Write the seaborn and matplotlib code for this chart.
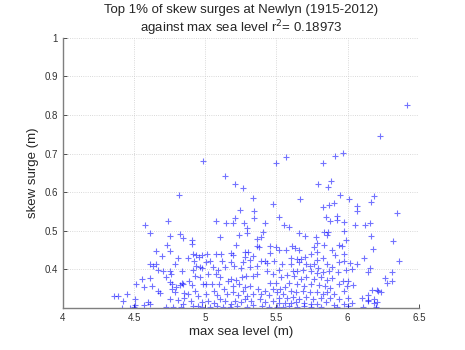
import matplotlib
matplotlib.use("Agg")
import matplotlib.pyplot as plt
import seaborn as sns
import pandas as pd

# max sea level (m), skew surge (m)
pts = [
    # upper sparse region
    (4.983, 0.681), (5.142, 0.643), (5.207, 0.621), (5.263, 0.610), (4.816, 0.594),
    (5.333, 0.584), (5.478, 0.570), (5.497, 0.675), (5.245, 0.555), (5.340, 0.552),
    (5.207, 0.534), (5.345, 0.534), (5.072, 0.526), (5.147, 0.519), (5.193, 0.520),
    (5.275, 0.520), (5.291, 0.508), (5.417, 0.521), (4.741, 0.526), (4.578, 0.515),
    (5.520, 0.536), (6.417, 0.825), (6.226, 0.745), (5.965, 0.701), (5.913, 0.695),
    (5.568, 0.691), (5.825, 0.675), (5.885, 0.630), (5.788, 0.620), (5.865, 0.613),
    (5.944, 0.593), (6.007, 0.582), (6.184, 0.591), (6.161, 0.574), (5.667, 0.583),
    (5.829, 0.561), (5.867, 0.568), (5.906, 0.571), (6.067, 0.564), (6.067, 0.551),
    (6.343, 0.545), (5.850, 0.536), (5.927, 0.538), (5.876, 0.526), (5.927, 0.529),
    (5.976, 0.522), (5.550, 0.514), (5.587, 0.510), (6.051, 0.514), (6.123, 0.515),
    (6.156, 0.519),
    # far left
    (4.359, 0.330), (4.387, 0.330), (4.452, 0.335), (4.424, 0.319), (4.415, 0.301),
    (4.475, 0.301), (4.508, 0.307),
    # 4.5 - 5.0
    (4.615, 0.494), (4.750, 0.487), (4.825, 0.491), (4.844, 0.482), (4.909, 0.475),
    (4.909, 0.467), (4.732, 0.463), (4.657, 0.448), (4.750, 0.448), (4.694, 0.434),
    (4.806, 0.429), (4.914, 0.439), (4.932, 0.437), (4.979, 0.437), (4.881, 0.430),
    (4.918, 0.422), (4.955, 0.432), (4.615, 0.415), (4.657, 0.415), (4.634, 0.410),
    (4.788, 0.415), (4.937, 0.410), (4.965, 0.406), (4.671, 0.399), (4.704, 0.396),
    (4.750, 0.397), (4.760, 0.389), (4.839, 0.396), (4.914, 0.399), (4.979, 0.403),
    (4.555, 0.375), (4.615, 0.377), (4.727, 0.380), (4.755, 0.368), (4.764, 0.361),
    (4.834, 0.366), (4.844, 0.361), (4.886, 0.371), (4.927, 0.384), (4.965, 0.380),
    (4.517, 0.361), (4.573, 0.354), (4.624, 0.358), (4.671, 0.345), (4.680, 0.340),
    (4.769, 0.349), (4.797, 0.354), (4.788, 0.342), (4.820, 0.359), (4.904, 0.359),
    (4.927, 0.345), (4.983, 0.363), (4.508, 0.323), (4.601, 0.316), (4.568, 0.307),
    (4.615, 0.311), (4.750, 0.323), (4.811, 0.320), (4.853, 0.327), (4.881, 0.335),
    (4.899, 0.318), (4.946, 0.332), (4.974, 0.316), (4.722, 0.303), (4.774, 0.303),
    (4.503, 0.303), (4.844, 0.311), (4.914, 0.306), (4.951, 0.306), (4.979, 0.303),
    (4.830, 0.303), (4.853, 0.339),
    # 5.0 - 5.5
    (5.105, 0.485), (5.240, 0.489), (5.291, 0.494), (5.408, 0.496), (5.389, 0.485),
    (5.366, 0.479), (5.216, 0.463), (5.361, 0.461), (5.380, 0.458), (5.454, 0.461),
    (5.496, 0.459), (5.011, 0.440), (5.072, 0.440), (5.109, 0.439), (5.184, 0.442),
    (5.198, 0.437), (5.282, 0.444), (5.300, 0.446), (5.277, 0.432), (5.338, 0.435),
    (5.454, 0.442), (5.422, 0.421), (5.431, 0.416), (5.482, 0.423), (5.002, 0.420),
    (5.035, 0.421), (5.119, 0.423), (5.179, 0.418), (5.268, 0.420), (5.314, 0.425),
    (5.389, 0.421), (5.053, 0.406), (5.091, 0.399), (5.142, 0.406), (5.202, 0.408),
    (5.254, 0.404), (5.314, 0.406), (5.366, 0.409), (5.361, 0.388), (5.436, 0.397),
    (5.473, 0.388), (5.515, 0.399), (5.016, 0.388), (5.072, 0.388), (5.105, 0.380),
    (5.160, 0.371), (5.179, 0.375), (5.216, 0.373), (5.258, 0.380), (5.286, 0.382),
    (5.338, 0.382), (5.454, 0.364), (5.496, 0.366), (5.002, 0.361), (5.049, 0.362),
    (5.100, 0.362), (5.133, 0.350), (5.198, 0.357), (5.240, 0.361), (5.277, 0.354),
    (5.314, 0.357), (5.370, 0.349), (5.422, 0.345), (5.478, 0.350), (5.007, 0.337),
    (5.058, 0.343), (5.081, 0.333), (5.151, 0.337), (5.193, 0.342), (5.230, 0.333),
    (5.263, 0.343), (5.296, 0.331), (5.338, 0.337), (5.389, 0.335), (5.445, 0.333),
    (5.501, 0.342), (5.021, 0.319), (5.058, 0.314), (5.105, 0.323), (5.142, 0.317),
    (5.179, 0.311), (5.212, 0.319), (5.249, 0.316), (5.282, 0.323), (5.324, 0.319),
    (5.384, 0.323), (5.422, 0.316), (5.478, 0.319), (5.515, 0.326), (5.035, 0.303),
    (5.081, 0.304), (5.128, 0.303), (5.174, 0.303), (5.221, 0.305), (5.291, 0.303),
    (5.398, 0.304), (5.445, 0.303), (5.501, 0.302), (5.338, 0.307),
    # 5.5 - 6.0
    (5.659, 0.494), (5.701, 0.486), (5.776, 0.484), (5.832, 0.496), (5.860, 0.496),
    (5.855, 0.489), (5.976, 0.500), (5.781, 0.468), (5.832, 0.463), (5.762, 0.458),
    (5.939, 0.463), (5.962, 0.461), (5.986, 0.475), (5.608, 0.461), (5.631, 0.455),
    (5.655, 0.451), (5.515, 0.449), (5.566, 0.451), (5.739, 0.441), (5.785, 0.444),
    (5.892, 0.449), (5.911, 0.437), (5.972, 0.441), (5.701, 0.432), (5.599, 0.430),
    (5.641, 0.427), (5.669, 0.427), (5.785, 0.425), (5.823, 0.430), (5.538, 0.413),
    (5.599, 0.415), (5.655, 0.420), (5.706, 0.415), (5.734, 0.408), (5.762, 0.413),
    (5.790, 0.404), (5.855, 0.415), (5.888, 0.406), (5.939, 0.420), (5.972, 0.423),
    (6.018, 0.416), (5.613, 0.397), (5.645, 0.397), (5.683, 0.399), (5.739, 0.397),
    (5.785, 0.390), (5.827, 0.392), (5.869, 0.397), (5.930, 0.392), (5.990, 0.399),
    (6.032, 0.401), (5.529, 0.380), (5.576, 0.385), (5.622, 0.382), (5.669, 0.375),
    (5.706, 0.380), (5.762, 0.375), (5.813, 0.380), (5.855, 0.373), (5.892, 0.378),
    (5.967, 0.370), (6.004, 0.371), (5.590, 0.366), (5.645, 0.363), (5.692, 0.358),
    (5.739, 0.363), (5.795, 0.359), (5.837, 0.358), (5.878, 0.351), (5.939, 0.361),
    (5.995, 0.356), (5.524, 0.349), (5.562, 0.354), (5.599, 0.345), (5.636, 0.342),
    (5.683, 0.345), (5.734, 0.342), (5.785, 0.342), (5.823, 0.335), (5.855, 0.342),
    (5.902, 0.337), (5.972, 0.345), (5.548, 0.335), (5.576, 0.326), (5.613, 0.328),
    (5.659, 0.323), (5.706, 0.328), (5.753, 0.323), (5.809, 0.326), (5.878, 0.325),
    (5.939, 0.323), (6.000, 0.325), (5.520, 0.314), (5.562, 0.313), (5.599, 0.314),
    (5.636, 0.316), (5.692, 0.314), (5.739, 0.311), (5.785, 0.311), (5.846, 0.316),
    (5.902, 0.309), (5.972, 0.311), (6.032, 0.314), (5.543, 0.303), (5.590, 0.304),
    (5.645, 0.303), (5.692, 0.305), (5.739, 0.303), (5.809, 0.303), (5.925, 0.303),
    (6.000, 0.304),
    # 6.0 - 6.4
    (6.163, 0.487), (6.317, 0.474), (6.177, 0.453), (6.112, 0.429), (6.065, 0.415),
    (6.359, 0.422), (6.154, 0.403), (6.140, 0.394), (6.312, 0.392), (6.261, 0.378),
    (6.312, 0.371), (6.279, 0.364), (6.037, 0.359), (6.168, 0.347), (6.210, 0.344),
    (6.237, 0.342), (6.140, 0.333), (6.098, 0.325), (6.140, 0.319), (6.186, 0.323),
    (6.205, 0.316), (6.182, 0.314), (6.107, 0.303), (6.200, 0.303), (6.144, 0.321),
    (6.196, 0.301), (6.205, 0.347),
]
sea_level = [p[0] for p in pts]
skew_surge = [p[1] for p in pts]

x_ticks = [4, 4.5, 5, 5.5, 6, 6.5]
x_tick_labels = ["4", "4.5", "5", "5.5", "6", "6.5"]
y_ticks = [0.4, 0.5, 0.6, 0.7, 0.8, 0.9, 1.0]
y_tick_labels = ["0.4", "0.5", "0.6", "0.7", "0.8", "0.9", "1"]

df = pd.DataFrame({"max sea level (m)": sea_level, "skew surge (m)": skew_surge})

sns.set_style("white")
plt.rcParams["font.family"] = ["Liberation Sans", "DejaVu Sans"]

fig = plt.figure(figsize=(4.65, 3.5), dpi=100)
ax = fig.add_axes([0.135, 0.12, 0.766, 0.772])

sns.scatterplot(data=df, x="max sea level (m)", y="skew surge (m)", ax=ax,
                marker="+", color="#0000ff", s=24, linewidth=0.8, alpha=0.55,
                legend=False)

ax.set_xlim(4, 6.5)
ax.set_ylim(0.3, 1.0)
ax.set_xticks(x_ticks)
ax.set_xticklabels(x_tick_labels)
ax.set_yticks(y_ticks)
ax.set_yticklabels(y_tick_labels)
ax.tick_params(direction="in", length=3, width=0.6, labelsize=7,
               colors="#333333", top=False, right=False, bottom=True, left=True)
ax.grid(True, linestyle=":", color="#cccccc", linewidth=0.6)
for s in ["top", "right"]:
    ax.spines[s].set_visible(False)
for s in ["left", "bottom"]:
    ax.spines[s].set_color("#7f7f7f")
    ax.spines[s].set_linewidth(1.0)

ax.set_xlabel("max sea level (m)", fontsize=9.5, labelpad=2)
ax.set_ylabel("skew surge (m)", fontsize=9.5, labelpad=4)
ax.set_title("Top 1% of skew surges at Newlyn (1915-2012)\nagainst max sea level r$^2$= 0.18973",
             fontsize=9.5, pad=4, linespacing=1.15)

fig.savefig("out.png", dpi=100, facecolor="white")
